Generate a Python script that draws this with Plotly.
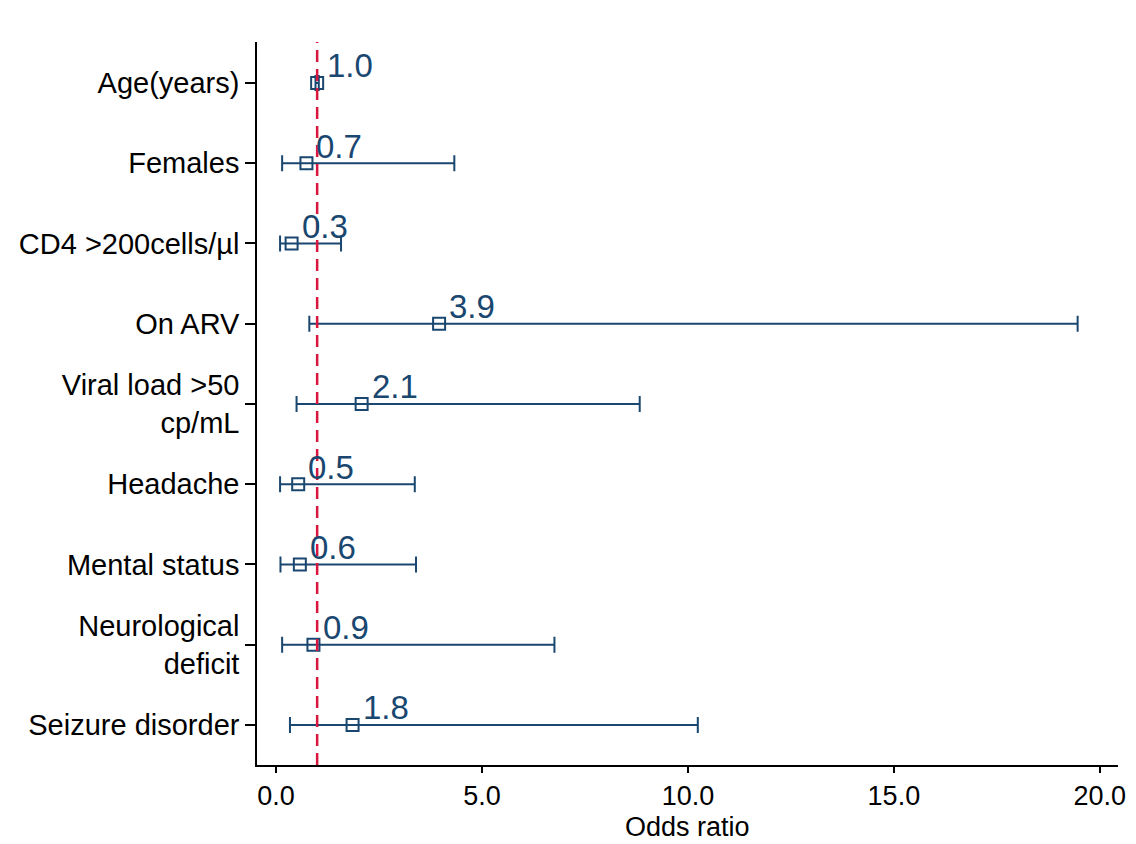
import plotly.graph_objects as go

categories = ["Age(years)", "Females", "CD4 >200cells/µl", "On ARV", "Viral load >50<br>cp/mL",
              "Headache", "Mental status", "Neurological<br>deficit", "Seizure disorder"]
odds_ratio = [1.0, 0.74, 0.38, 3.96, 2.08, 0.54, 0.58, 0.91, 1.86]
ci_lower = [0.96, 0.15, 0.10, 0.81, 0.50, 0.10, 0.11, 0.15, 0.34]
ci_upper = [1.04, 4.33, 1.58, 19.46, 8.83, 3.37, 3.40, 6.76, 10.24]
labels = ["1.0", "0.7", "0.3", "3.9", "2.1", "0.5", "0.6", "0.9", "1.8"]
x_ticks = [0, 5, 10, 15, 20]
x_tick_text = ["0.0", "5.0", "10.0", "15.0", "20.0"]
x_title = "Odds ratio"

navy = "#1a476f"
font_family = "Liberation Sans, Arial"
ypos = list(range(len(categories)))

fig = go.Figure()
fig.add_trace(go.Scatter(
    x=odds_ratio, y=ypos, mode="markers",
    marker=dict(symbol="square-open", size=12, color=navy, line=dict(width=2, color=navy)),
    error_x=dict(type="data", symmetric=False,
                 array=[u - o for u, o in zip(ci_upper, odds_ratio)],
                 arrayminus=[o - l for o, l in zip(odds_ratio, ci_lower)],
                 color=navy, thickness=2, width=8),
    showlegend=False, cliponaxis=False,
))

for xv, yv, lab in zip(odds_ratio, ypos, labels):
    fig.add_annotation(x=xv, y=yv, text=lab, showarrow=False,
                       xanchor="left", yanchor="middle", xshift=8, yshift=17,
                       font=dict(family=font_family, size=33, color=navy))

# x-axis title placed as annotation below tick labels
fig.add_annotation(x=0.5, y=0, xref="paper", yref="paper", text=x_title, showarrow=False,
                   xanchor="center", yanchor="bottom", yshift=-79,
                   font=dict(family=font_family, size=27, color="black"))

fig.add_shape(type="line", x0=1, x1=1, y0=0, y1=1, xref="x", yref="paper",
              line=dict(color="#d8163e", width=2.5, dash="12px,7px"))

fig.update_layout(
    width=1136, height=844,
    margin=dict(l=257, r=18, t=42, b=79),
    paper_bgcolor="white", plot_bgcolor="white",
    font=dict(family=font_family, size=30, color="black"),
    xaxis=dict(range=[-0.46, 20.44], tickvals=x_ticks, ticktext=x_tick_text, automargin=False,
               showgrid=False, zeroline=False, showline=True, linecolor="black", linewidth=1.5,
               ticks="outside", ticklen=6, tickwidth=1.5, tickcolor="black",
               tickfont=dict(family=font_family, size=27)),
    yaxis=dict(range=[8.5, -0.51], tickvals=ypos, ticktext=categories, automargin=False,
               showgrid=False, zeroline=False, showline=True, linecolor="black", linewidth=1.5,
               ticks="outside", ticklen=10, tickwidth=1.5, tickcolor="black",
               tickfont=dict(family=font_family, size=29)),
)

fig.write_html("out.html")
